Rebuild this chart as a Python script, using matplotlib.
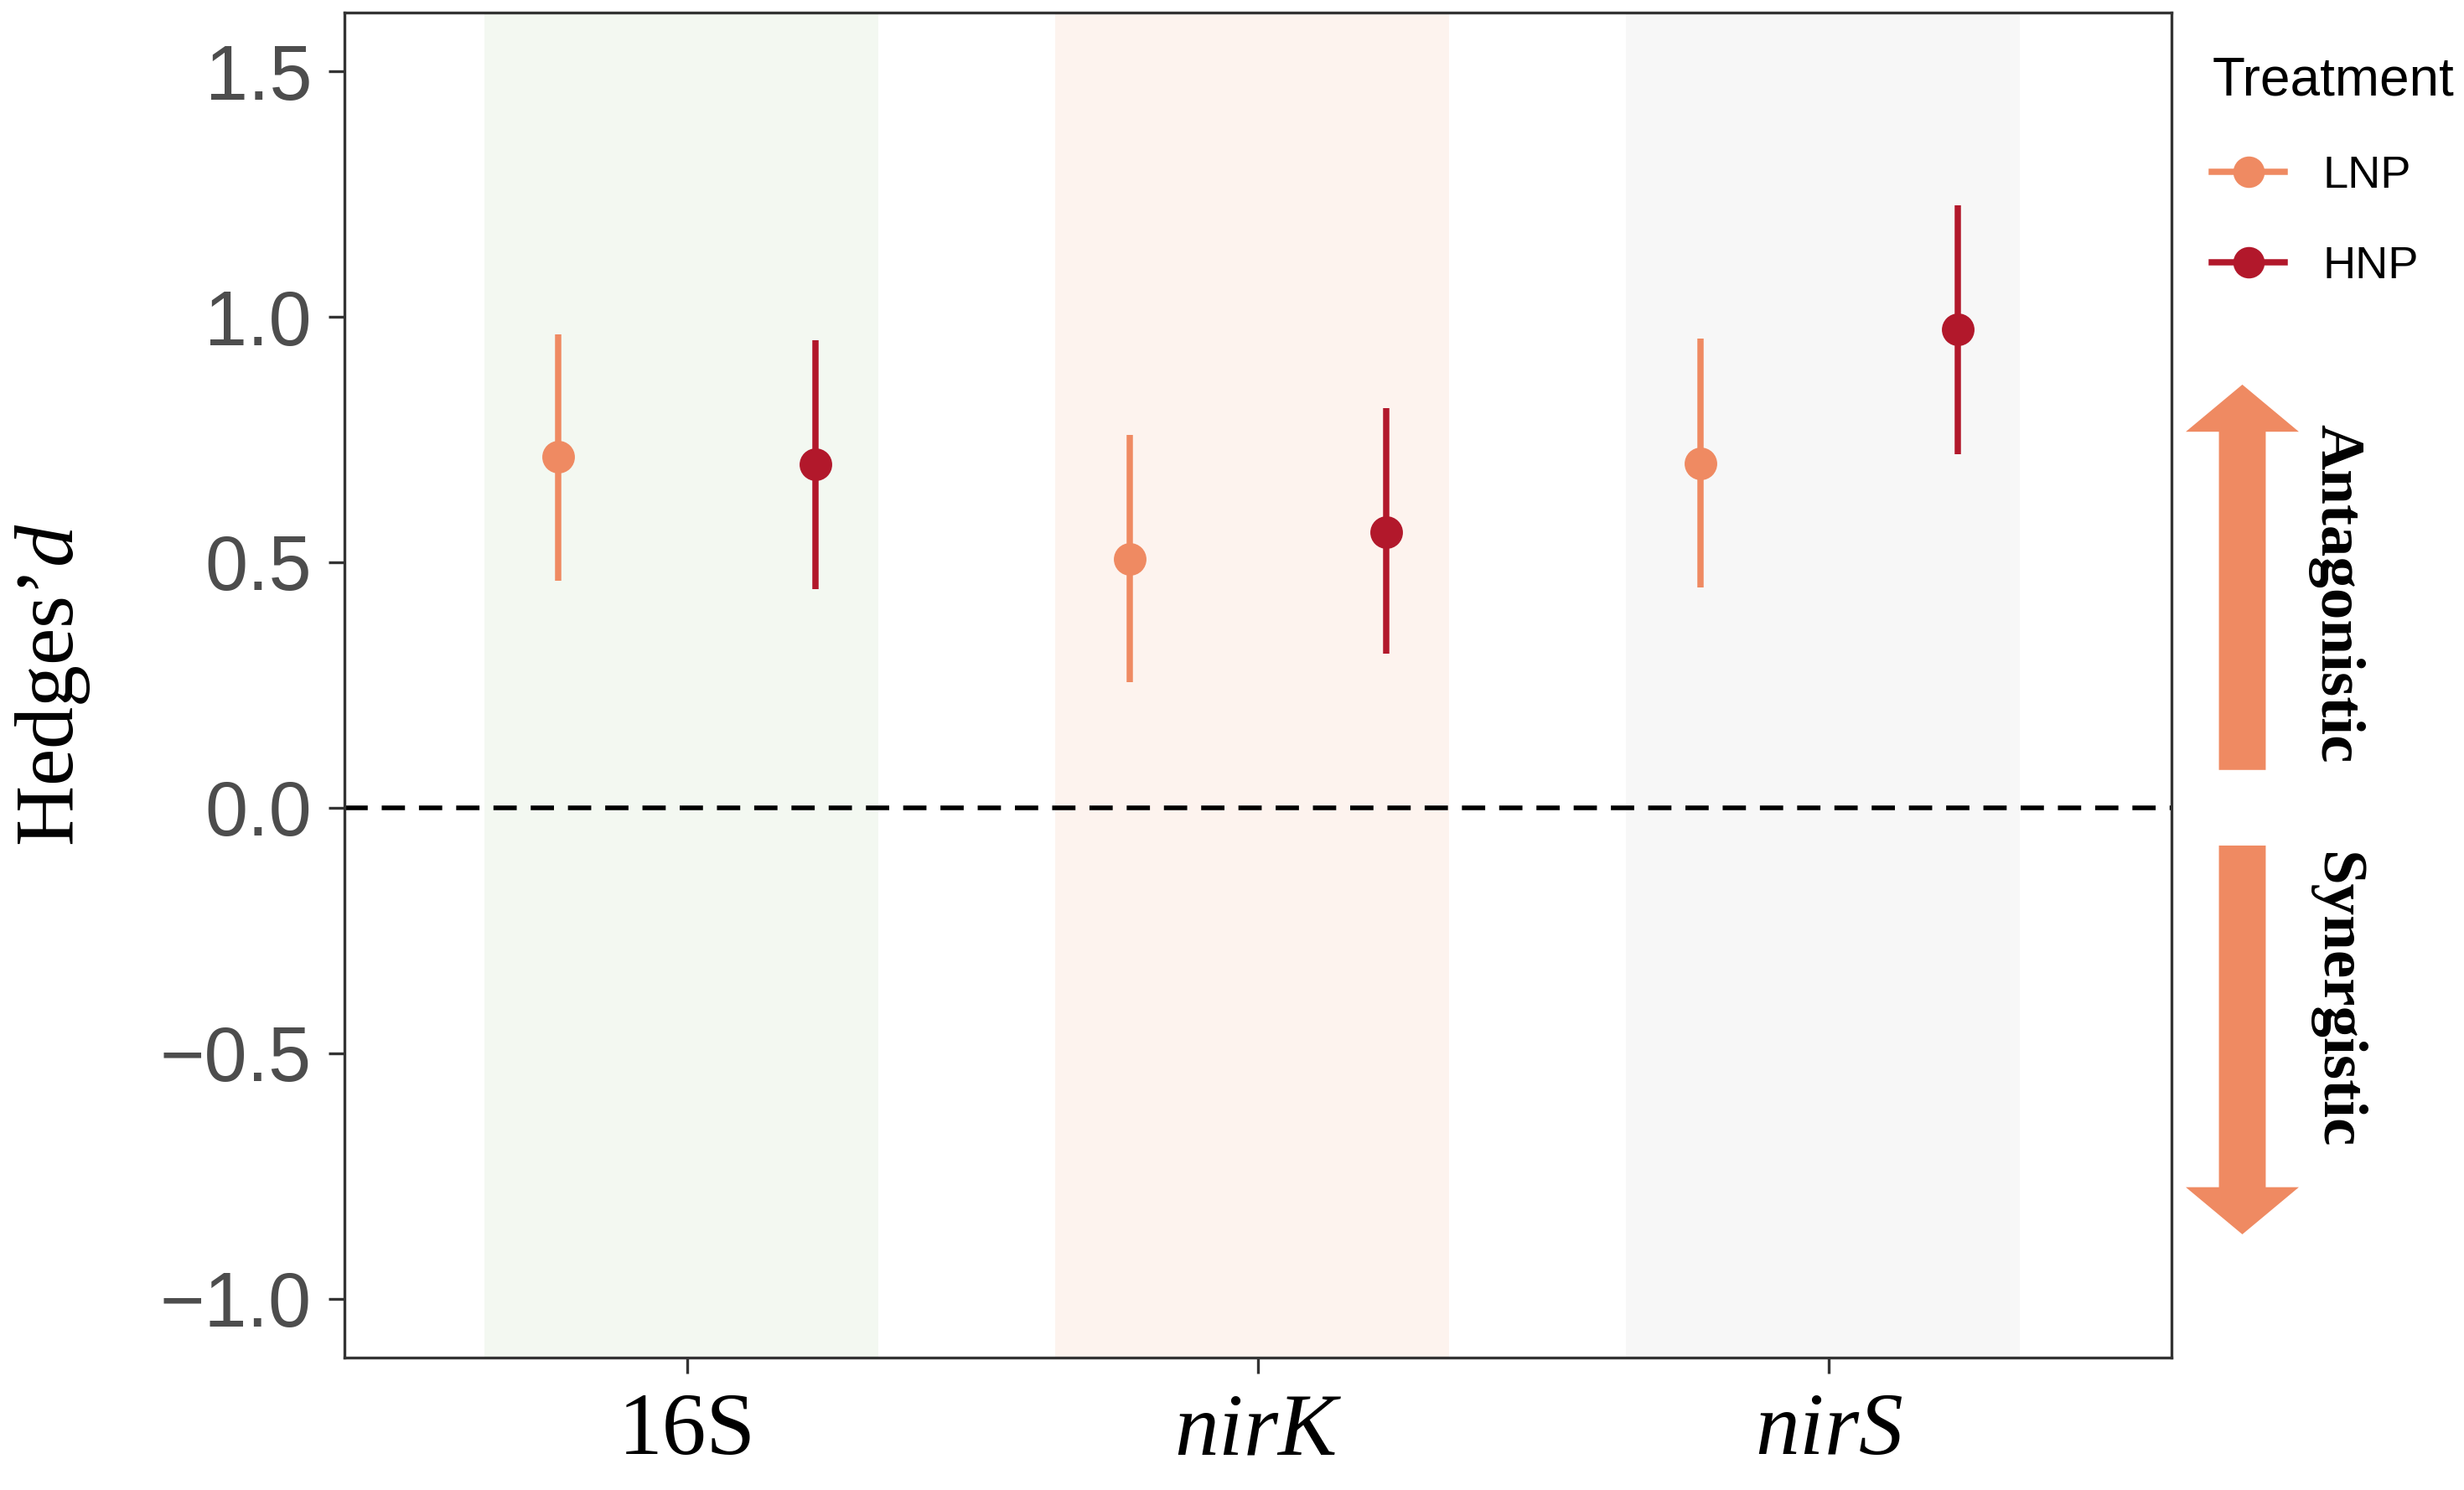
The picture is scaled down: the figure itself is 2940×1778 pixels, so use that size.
import numpy as np
import matplotlib
matplotlib.use('Agg')
import matplotlib.pyplot as plt
import matplotlib.patches as mpatches
from matplotlib.lines import Line2D

plt.rcParams['font.family'] = ['Liberation Sans', 'DejaVu Sans']
plt.rcParams['mathtext.fontset'] = 'custom'
plt.rcParams['mathtext.rm'] = 'Liberation Serif'
plt.rcParams['mathtext.it'] = 'Liberation Serif:italic'

# data
genes = ['16S', 'nirK', 'nirS']
gene_labels = ['16S', '$\\mathit{nirK}$', '$\\mathit{nirS}$']
treatments = ['LNP', 'HNP']
lnp_mean = [0.715, 0.506, 0.702]
lnp_low = [0.462, 0.256, 0.449]
lnp_high = [0.965, 0.760, 0.955]
hnp_mean = [0.699, 0.561, 0.974]
hnp_low = [0.446, 0.314, 0.721]
hnp_high = [0.952, 0.814, 1.228]

colors = {'LNP': '#EF8A62', 'HNP': '#B2182B'}
band_colors = ['#F3F8F1', '#FDF3EE', '#F7F7F7']
dodge = 0.225

fig = plt.figure(figsize=(14.7, 8.89), dpi=200)
ax = fig.add_axes([0.1398, 0.0889, 0.7415, 0.9027])

x = np.arange(1, len(genes) + 1)

# background bands behind each gene
for xi, bc in zip(x, band_colors):
    ax.axvspan(xi - 0.355, xi + 0.335, color=bc, lw=0, zorder=0)

ax.axhline(0, color='black', ls=(0, (5, 3)), lw=2.0, zorder=1)

series = [
    ('LNP', -dodge, lnp_mean, lnp_low, lnp_high),
    ('HNP', dodge, hnp_mean, hnp_low, hnp_high),
]
for name, off, m, lo, hi in series:
    m = np.array(m)
    yerr = [m - np.array(lo), np.array(hi) - m]
    ax.errorbar(x + off, m, yerr=yerr, fmt='o', color=colors[name],
                ms=13, elinewidth=2.7, capsize=0, zorder=3)

ax.set_xlim(0.4, 3.6)
ax.set_ylim(-1.12, 1.62)
ax.set_yticks([-1.0, -0.5, 0.0, 0.5, 1.0, 1.5])
ax.set_yticklabels(['\u22121.0', '\u22120.5', '0.0', '0.5', '1.0', '1.5'])
ax.set_xticks(x)
ax.set_xticklabels(gene_labels, fontsize=38, fontfamily='Liberation Serif')
ax.tick_params(axis='y', labelsize=33, labelcolor='#4D4D4D', color='#333333',
               length=7, width=1.2, pad=7)
ax.tick_params(axis='x', labelcolor='black', color='#333333',
               length=7, width=1.2, pad=8)
for sp in ax.spines.values():
    sp.set_color('#333333')
    sp.set_linewidth(1.2)

ax.set_ylabel('$\\mathrm{Hedges\u2019}\\mathit{d}$', fontsize=36, labelpad=29)

# arrows on the right side
arrow_x = 3.724
up = mpatches.FancyArrow(arrow_x, 0.077, 0, 0.862 - 0.077, width=0.082,
                         head_width=0.198, head_length=0.096,
                         length_includes_head=True, color='#EF8A62',
                         lw=0, clip_on=False, transform=ax.transData)
down = mpatches.FancyArrow(arrow_x, -0.077, 0, -0.869 + 0.077, width=0.082,
                           head_width=0.198, head_length=0.096,
                           length_includes_head=True, color='#EF8A62',
                           lw=0, clip_on=False, transform=ax.transData)
ax.add_patch(up)
ax.add_patch(down)
ax.text(3.888, 0.436, 'Antagonistic', rotation=-90, ha='center', va='center',
        fontsize=27, fontweight='bold', fontfamily='Liberation Serif', clip_on=False)
ax.text(3.888, -0.391, 'Synergistic', rotation=-90, ha='center', va='center',
        fontsize=27, fontweight='bold', fontfamily='Liberation Serif', clip_on=False)

handles = [Line2D([], [], color=colors[t], lw=2.7, marker='o', ms=12.5) for t in treatments]
leg = fig.legend(handles, treatments, title='Treatment', loc='upper left',
                 bbox_to_anchor=(0.8885, 0.978), frameon=False, fontsize=19.5,
                 title_fontsize=23, handlelength=1.6, handletextpad=0.85,
                 labelspacing=1.08, borderpad=0, alignment='left')

fig.savefig('out.png', dpi=200)
